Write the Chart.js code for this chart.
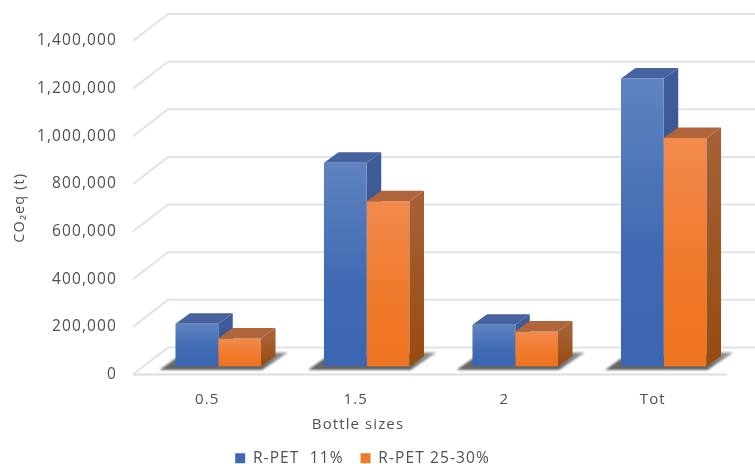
<!DOCTYPE html>
<html>
<head>
<meta charset="utf-8">
<style>
html,body{margin:0;padding:0;background:#fff}
canvas{display:block}
</style>
<script src="https://cdn.jsdelivr.net/npm/chart.js@4/dist/chart.umd.min.js"></script>
</head>
<body>
<canvas id="c" width="755" height="464"></canvas>
<script>
// Bottle-size CO2 comparison, column chart with a drawn perspective.
const categories = ['0.5', '1.5', '2', 'Tot'];
const seriesNames = ['R-PET  11%', 'R-PET 25-30%'];
const rpet11 = [179000, 855000, 175000, 1209000];
const rpet2530 = [118000, 694000, 147000, 959000];
const tickStep = 200000;
const axisMax = 1400000;

const TEXT = '#505050';
const FONT = '"Open Sans", sans-serif';
const WALL = { dx: 35, dy: -27 };       // floor and wall depth
const PLANE = { dx: 11, dy: -8 };       // columns stand this far behind the front edge
const BAR = { dx: 14.5, dy: -10.5 };    // column depth
const faces = [
  { front: ['#5f83c0', '#3f6ab3', '#3a66b2'], side: ['#3f5c98', '#334f88'], top: '#46629f', key: '#3f68b0' },
  { front: ['#f28a4e', '#f0792a', '#ec731f'], side: ['#a66034', '#984b10'], top: '#b0663a', key: '#ee7a2e' }
];

function barFill(i) {
  return (ctx) => {
    if (ctx.type !== 'data') return faces[i].key;
    const y = ctx.chart.scales.y;
    const g = ctx.chart.ctx.createLinearGradient(0, y.getPixelForValue(ctx.raw), 0, y.getPixelForValue(0));
    g.addColorStop(0, faces[i].front[0]);
    g.addColorStop(0.6, faces[i].front[1]);
    g.addColorStop(1, faces[i].front[2]);
    return g;
  };
}

// Side and top faces of one series' columns.
function drawDepth(chart, index) {
  const { ctx, scales: { y } } = chart;
  const f = faces[index];
  chart.getDatasetMeta(index).data.forEach((b) => {
    const L = b.x - b.width / 2, R = b.x + b.width / 2, T = b.y, B = y.getPixelForValue(0);
    const g = ctx.createLinearGradient(0, T, 0, B);
    g.addColorStop(0, f.side[0]);
    g.addColorStop(1, f.side[1]);
    ctx.fillStyle = g;
    ctx.beginPath();
    ctx.moveTo(R, T);
    ctx.lineTo(R + BAR.dx, T + BAR.dy);
    ctx.lineTo(R + BAR.dx, B + BAR.dy);
    ctx.lineTo(R, B);
    ctx.closePath();
    ctx.fill();
    ctx.fillStyle = f.top;
    ctx.beginPath();
    ctx.moveTo(L, T);
    ctx.lineTo(L + BAR.dx, T + BAR.dy);
    ctx.lineTo(R + BAR.dx, T + BAR.dy);
    ctx.lineTo(R, T);
    ctx.closePath();
    ctx.fill();
  });
}

const perspective = {
  id: 'perspective',
  beforeLayout(chart) { chart.ctx.letterSpacing = '1.1px'; },
  afterLayout(chart) {
    const l = chart.legend;
    l.left -= 1; l.right -= 1;
    l.top += 12; l.bottom += 12;
  },
  beforeDatasetsDraw(chart) {
    const { ctx, chartArea: a, scales: { y } } = chart;
    ctx.save();
    ctx.lineWidth = 2;
    ctx.strokeStyle = '#e3e3e3';
    y.ticks.forEach((t) => {
      const py = y.getPixelForValue(t.value);
      ctx.beginPath();
      ctx.moveTo(a.left, py);
      ctx.lineTo(a.left + WALL.dx, py + WALL.dy);
      ctx.lineTo(a.right + WALL.dx, py + WALL.dy);
      ctx.stroke();
    });
    const y0 = y.getPixelForValue(0);
    ctx.strokeStyle = '#dedede';
    ctx.beginPath();
    ctx.moveTo(a.left, y0);
    ctx.lineTo(a.right, y0);
    ctx.stroke();
    ctx.restore();

    // Cast shadows on the floor, then shift into the plane of the columns.
    ctx.save();
    ctx.translate(PLANE.dx, PLANE.dy);
    const m0 = chart.getDatasetMeta(0).data, m1 = chart.getDatasetMeta(1).data;
    ctx.filter = 'blur(1.2px)';
    m0.forEach((b, i) => {
      const L = b.x - b.width / 2, R = m1[i].x + m1[i].width / 2, B = y0;
      const g = ctx.createLinearGradient(R, 0, R + 28, 0);
      g.addColorStop(0, '#666');
      g.addColorStop(1, '#a8a8a8');
      ctx.fillStyle = g;
      ctx.beginPath();
      ctx.moveTo(L - 16, B + 3.5);
      ctx.lineTo(L, B - 8);
      ctx.lineTo(R + 16, B - 14);
      ctx.lineTo(R + 27, B - 14);
      ctx.lineTo(R + 1, B + 3.5);
      ctx.closePath();
      ctx.fill();
    });
    ctx.filter = 'none';
    // The later series paints first, so the earlier one's depth goes underneath it.
    drawDepth(chart, 0);
  },
  afterDatasetDraw(chart, args) {
    if (args.index === 1) drawDepth(chart, 1);
  },
  afterDatasetsDraw(chart) { chart.ctx.restore(); },
  afterDraw(chart) {
    const { ctx } = chart;
    ctx.save();
    ctx.font = '15px ' + FONT;
    ctx.fillStyle = TEXT;
    ctx.textAlign = 'center';
    ctx.textBaseline = 'middle';
    ctx.fillText('Bottle sizes', 358, 425);
    ctx.restore();
  }
};

new Chart(document.getElementById('c'), {
  type: 'bar',
  data: {
    labels: categories,
    datasets: [
      { label: seriesNames[0], data: rpet11, backgroundColor: barFill(0) },
      { label: seriesNames[1], data: rpet2530, backgroundColor: barFill(1) }
    ]
  },
  plugins: [perspective],
  options: {
    responsive: false,
    animation: false,
    categoryPercentage: 0.576,
    barPercentage: 1,
    layout: { padding: { top: 41, right: 28, left: 0, bottom: 0 } },
    scales: {
      x: {
        grid: { display: false },
        border: { display: false },
        ticks: { padding: 8, color: TEXT, font: { family: FONT, size: 15 } },
        afterFit(s) { s.height = 47; }
      },
      y: {
        min: 0,
        max: axisMax,
        grid: { display: false },
        border: { display: false },
        ticks: {
          stepSize: tickStep,
          padding: 8,
          color: TEXT,
          font: { family: FONT, size: 15.5 },
          callback: (v) => v.toLocaleString('en-US')
        },
        title: {
          display: true,
          text: 'CO\u2082eq (t)',
          color: TEXT,
          font: { family: FONT, size: 14.5 },
          padding: { top: 11, bottom: 0 }
        },
        afterFit(s) { s.width = 133; }
      }
    },
    plugins: {
      tooltip: { enabled: false },
      legend: {
        position: 'bottom',
        labels: {
          color: TEXT,
          font: { family: FONT, size: 15.5 },
          boxWidth: 10,
          boxHeight: 10,
          padding: 17,
          generateLabels: () => seriesNames.map((n, i) => ({
            text: n,
            fillStyle: faces[i].key,
            strokeStyle: faces[i].key,
            lineWidth: 0,
            fontColor: TEXT,
            datasetIndex: i
          }))
        }
      }
    }
  }
});
</script>
</body>
</html>
